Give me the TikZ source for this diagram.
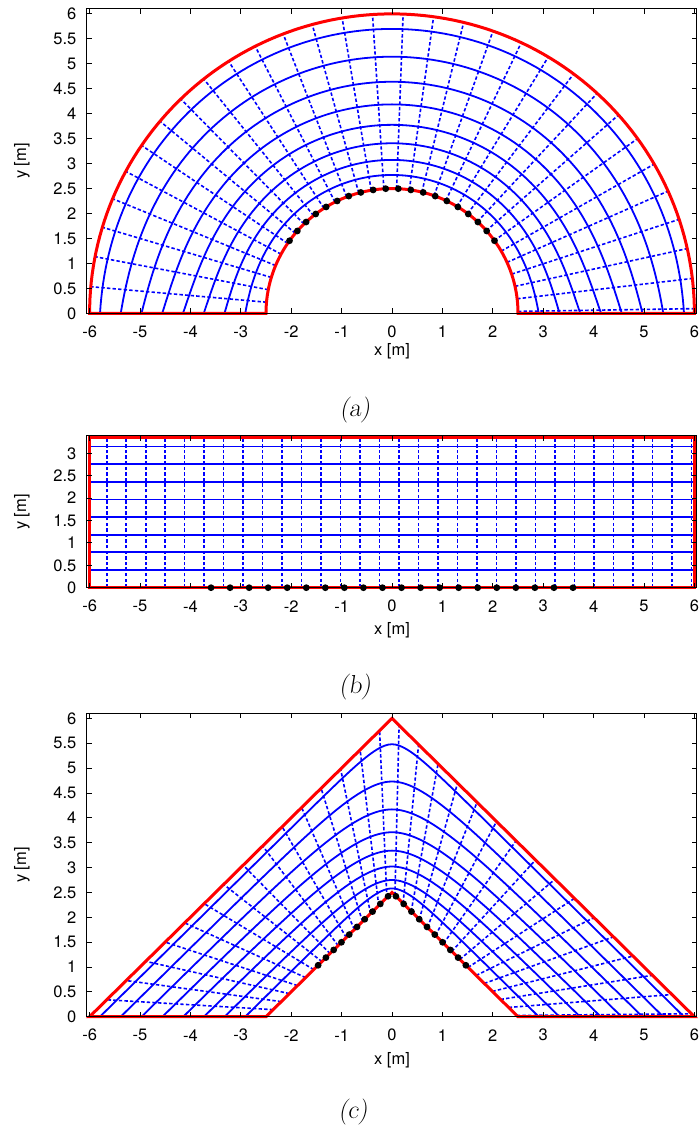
\documentclass[tikz,border=0pt]{standalone}
\usepackage{fontspec}
\newfontfamily\hvfont{TeX Gyre Heros}
\begin{document}
\begin{tikzpicture}[x=1bp,y=1bp,
  redb/.style={draw=red, line width=3bp, line join=miter},
  sol/.style={draw=blue, line width=1.8bp},
  dsh/.style={draw=blue, line width=1.6bp, dash pattern=on 3.4bp off 2.2bp},
  frm/.style={draw=black, line width=0.9bp},
  tickl/.style={font=\hvfont\fontsize{16.5bp}{19bp}\selectfont, inner sep=0pt},
  capt/.style={font=\fontsize{26bp}{30bp}\selectfont, inner sep=0pt},
  declare function={Ew(\u)=cosh(0.062631*(\u-90))/140.29;}
]
\useasboundingbox (0,0) rectangle (700,1135);
\fill[white] (0,0) rectangle (700,1135);

% ---------------- panel (a) ----------------
\begin{scope}[shift={(392,821.7)}, x=50.4bp, y=49.9bp]
  \foreach \k in {1,...,8}{
    \pgfmathsetmacro\lg{ln(2.5)+0.875469*\k/8.5}
    \pgfmathsetmacro\ll{ln(2.5+3.5*\k/8.5)}
    \draw[sol] plot[domain=0:180, samples=121, variable=\t]
      ({exp((1-Ew(\t))*\lg+Ew(\t)*\ll)*cos(\t)}, {exp((1-Ew(\t))*\lg+Ew(\t)*\ll)*sin(\t)});
  }
  \foreach \k in {0,...,30}{
    \pgfmathsetmacro\th{180*(1-(0.34+0.3867*\k)/12)}
    \draw[dsh] (\th:2.5) -- (\th:6);
  }
  \draw[redb] (-2.5,0) -- (-6,0) -- plot[domain=180:0, samples=121, variable=\t] ({6*cos(\t)},{6*sin(\t)})
     -- (2.5,0) -- plot[domain=0:180, samples=91, variable=\t] ({2.5*cos(\t)},{2.5*sin(\t)}) -- cycle;
  \foreach \j in {0,...,9}{
    \pgfmathsetmacro\a{2.8648+5.7296*\j}
    \fill ({90+\a}:2.5) circle[radius=3.4bp];
    \fill ({90-\a}:2.5) circle[radius=3.4bp];
  }
  \draw[frm] (-6.06,0) rectangle (6.05,6.1);
  \foreach \x in {-6,...,6}{
    \draw[frm] (\x,0) -- ++(0,5bp) (\x,6.1) -- ++(0,-5bp);
    \node[tickl, yshift=-18.5bp] (xa\x) at (\x,0) {\x};
  }
  \foreach \y in {0,0.5,1,1.5,2,2.5,3,3.5,4,4.5,5,5.5,6}{
    \draw[frm] (-6.06,\y) -- ++(5bp,0) (6.05,\y) -- ++(-5bp,0);
    \node[tickl, anchor=east, xshift=-10bp] (ya\y) at (-6.06,\y) {\y};
  }
\end{scope}
\node[tickl] (xlabA) at (392,784) {x [m]};
\node[tickl, rotate=90] (ylabA) at (22,974) {y [m]};
\node[capt] (capA) at (355,725) {\textsl{(a)}};

% ---------------- panel (b) ----------------
\begin{scope}[shift={(392,547.3)}, x=50.4bp, y=44.8bp]
  \foreach \k in {1,...,8}{
    \draw[sol] (-6,{\k*3.35/8.5}) -- (6,{\k*3.35/8.5});
  }
  \foreach \k in {0,...,30}{
    \pgfmathsetmacro\xk{-5.66+0.3867*\k}
    \draw[dsh] (\xk,0) -- (\xk,3.35);
  }
  \draw[redb] (-6,0) rectangle (6,3.35);
  \foreach \j in {0,...,9}{
    \pgfmathsetmacro\a{0.189+0.378*\j}
    \fill (\a,0) circle[radius=3.4bp];
    \fill (-\a,0) circle[radius=3.4bp];
  }
  \draw[frm] (-6.06,0) rectangle (6.05,3.39);
  \foreach \x in {-6,...,6}{
    \draw[frm] (\x,0) -- ++(0,5bp) (\x,3.39) -- ++(0,-5bp);
    \node[tickl, yshift=-18.5bp] (xb\x) at (\x,0) {\x};
  }
  \foreach \y in {0,0.5,1,1.5,2,2.5,3}{
    \draw[frm] (-6.06,\y) -- ++(5bp,0) (6.05,\y) -- ++(-5bp,0);
    \node[tickl, anchor=east, xshift=-10bp] (yb\y) at (-6.06,\y) {\y};
  }
\end{scope}
\node[tickl] (xlabB) at (392,505) {x [m]};
\node[tickl, rotate=90] (ylabB) at (22,623) {y [m]};
\node[capt] (capB) at (355,448) {\textsl{(b)}};

% ---------------- panel (c) ----------------
\begin{scope}[shift={(392,118.3)}, x=50.4bp, y=49.72bp]
  \foreach \k/\e in {1/0.332, 2/0.574, 3/0.715, 4/0.807, 5/0.849, 6/0.801, 7/0.652, 8/0.314}{
    \pgfmathsetmacro\d{2.5+3.5*\k/8.5}
    \draw[sol] plot[domain=-\d:\d, samples=161, variable=\t] (\t, {\d-abs(\t)-\e*exp(-abs(\t)/\e)});
  }
  \foreach \k in {0,...,30}{
    \pgfmathsetmacro\xk{-5.66+0.3867*\k}
    \draw[dsh] ({5*\xk/12},{2.5-5*abs(\xk)/12}) -- (\xk,{6-abs(\xk)});
  }
  \draw[redb] (-6,0) -- (0,6) -- (6,0) -- (2.5,0) -- (0,2.5) -- (-2.5,0) -- cycle;
  \foreach \j in {0,...,9}{
    \pgfmathsetmacro\a{0.0772+0.1543*\j}
    \fill (\a,{2.5-\a}) circle[radius=3.4bp];
    \fill (-\a,{2.5-\a}) circle[radius=3.4bp];
  }
  \draw[frm] (-6.06,0) rectangle (6.05,6.1);
  \foreach \x in {-6,...,6}{
    \draw[frm] (\x,0) -- ++(0,5bp) (\x,6.1) -- ++(0,-5bp);
    \node[tickl, yshift=-18.5bp] (xc\x) at (\x,0) {\x};
  }
  \foreach \y in {0,0.5,1,1.5,2,2.5,3,3.5,4,4.5,5,5.5,6}{
    \draw[frm] (-6.06,\y) -- ++(5bp,0) (6.05,\y) -- ++(-5bp,0);
    \node[tickl, anchor=east, xshift=-10bp] (yc\y) at (-6.06,\y) {\y};
  }
\end{scope}
\node[tickl] (xlabC) at (392,75) {x [m]};
\node[tickl, rotate=90] (ylabC) at (22,270) {y [m]};
\node[capt] (capC) at (353,23) {\textsl{(c)}};
\end{tikzpicture}
\end{document}
